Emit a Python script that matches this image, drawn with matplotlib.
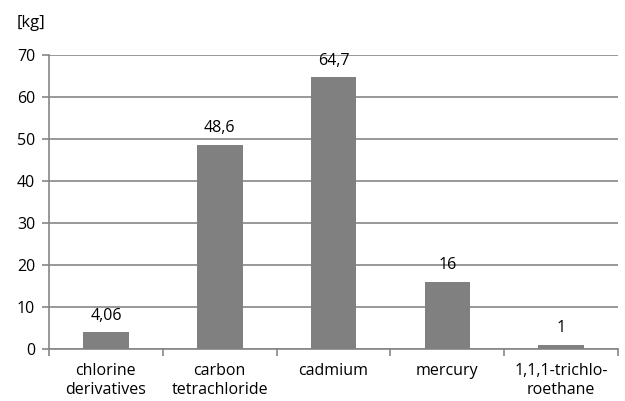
import matplotlib
matplotlib.use("Agg")
import matplotlib.pyplot as plt
import numpy as np

categories = ["chlorine\nderivatives", "carbon\ntetrachloride", "cadmium",
              "mercury", "1,1,1-trichlo-\nroethane"]
values = [4.06, 48.6, 64.7, 16, 1]
value_labels = ["4,06", "48,6", "64,7", "16", "1"]
yticks = [0, 10, 20, 30, 40, 50, 60, 70]

plt.rcParams["font.family"] = ["Open Sans", "DejaVu Sans"]
plt.rcParams["font.size"] = 11.5

fig = plt.figure(figsize=(6.25, 4.01), dpi=100)
ax = fig.add_axes([0.0784, 0.1297, 0.9106, 0.7333])

grey = "#868686"
x = np.arange(len(categories))
bars = ax.bar(x, values, width=0.4, color="#808080", zorder=3)
for b, lab in zip(bars, value_labels):
    ax.annotate(lab, (b.get_x() + b.get_width() / 2, b.get_height()),
                xytext=(0, 6), textcoords="offset points",
                ha="center", va="bottom")

ax.set_xlim(-0.5, len(categories) - 0.5)
ax.set_ylim(0, 70)
ax.set_yticks(yticks)
ax.yaxis.grid(True, color=grey, linewidth=1.2, zorder=0)
ax.set_axisbelow(True)

ax.set_xticks(x)
ax.set_xticklabels(categories, linespacing=1.25)
ax.tick_params(axis="x", which="major", length=0, pad=10)
ax.set_xticks(np.arange(-0.5, len(categories)), minor=True)
ax.tick_params(axis="x", which="minor", length=5, color=grey, width=1.2)
ax.tick_params(axis="y", length=5, color=grey, width=1.2, pad=5)

for side in ["top", "right"]:
    ax.spines[side].set_visible(False)
for side in ["left", "bottom"]:
    ax.spines[side].set_color(grey)
    ax.spines[side].set_linewidth(1.2)

fig.text(0.026, 0.943, "[kg]", fontsize=12, ha="left", va="center")

fig.savefig("out.png", dpi=100)
